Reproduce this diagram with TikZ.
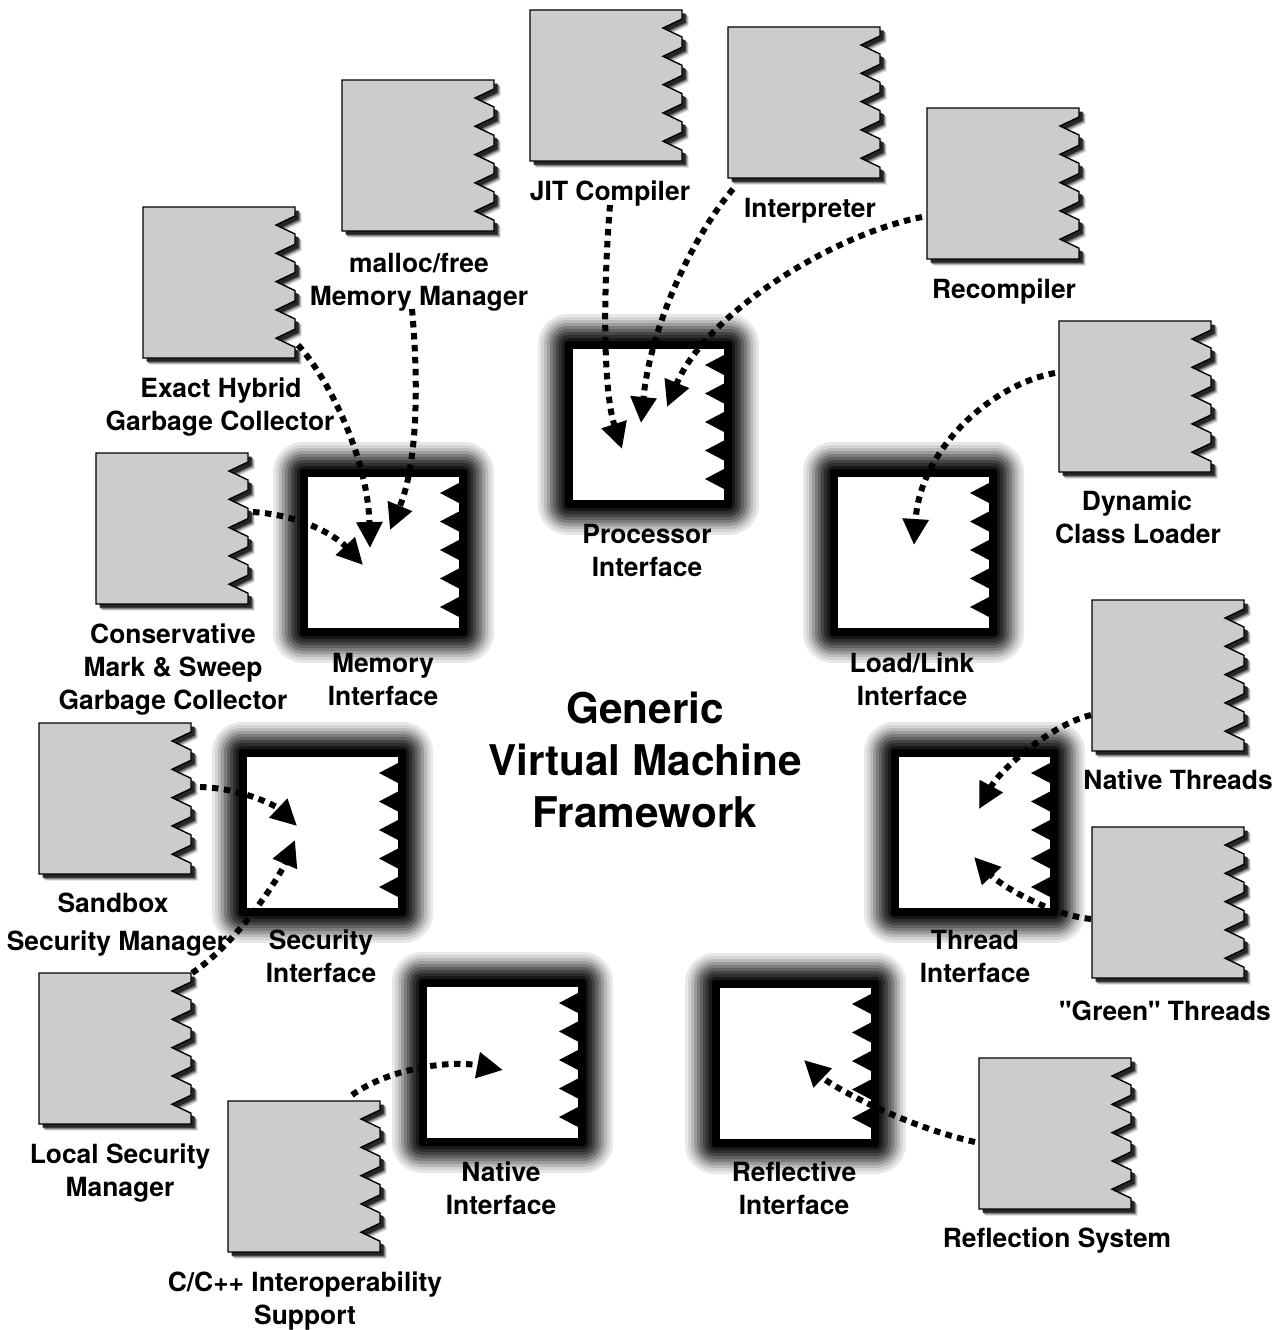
\documentclass[tikz,border=0pt]{standalone}
\usepackage{fontspec}
\setmainfont{TeX Gyre Heros}[Ligatures=TeXOff]
\usetikzlibrary{arrows.meta}
\tikzset{
  flow/.style={line width=6pt, dash pattern=on 6.5pt off 5.5pt, -{Triangle[length=26pt,width=25pt]}},
  lab/.style={anchor=base, inner sep=0pt, font=\bfseries\fontsize{26.4}{33}\selectfont},
  ttl/.style={anchor=base, inner sep=0pt, font=\bfseries\fontsize{42.3}{52}\selectfont},
  modfill/.style={fill=black!20, draw=black, line width=1.4pt, line join=miter},
  modanchor/.style={minimum width=152pt, minimum height=151pt, inner sep=0pt},
  ifinner/.style={fill=white, minimum size=151pt, inner sep=0pt},
}
% module outline, top-left corner (#1,#2)
\newcommand{\modpath}[2]{(#1,#2) -- ({#1+152},#2)
  \foreach \i in {0,...,4}{ -- ({#1+152},{#2+18+28.3*\i-9}) -- ({#1+133},{#2+18+28.3*\i}) -- ({#1+152},{#2+18+28.3*\i+9}) }
  -- ({#1+152},{#2+151}) -- (#1,{#2+151}) -- cycle}
\newcommand{\modbox}[3]{%
  \node[modanchor] (#1) at ({#2+76},{#3+75.5}) {};
  \foreach \shd/\gry in {6.5/15,5.5/35,4.5/60,3.5/85}{
    \fill[black!\gry, shift={(\shd,\shd)}] \modpath{#2}{#3};
  }
  \filldraw[modfill] \modpath{#2}{#3};
}
\newcommand{\ifbox}[3]{%
  \foreach \o/\g/\r in {35/9/30,32/17/27,29/27/24,26/39/21,23/51/18,20/62/15,17/73/12,14/82/9,11/90/7}{
    \fill[black!\g, rounded corners=\r pt] ({#2-\o},{#3-\o}) rectangle ({#2+151+\o},{#3+151+\o});
  }
  \fill[black, rounded corners=3pt] ({#2-8},{#3-8}) rectangle ({#2+159},{#3+159});
  \node[ifinner] (#1) at ({#2+75.5},{#3+75.5}) {};
  \foreach \i in {0,...,4}{
    \fill[black] ({#2+151},{#3+16+28.5*\i-10}) -- ({#2+132},{#3+16+28.5*\i}) -- ({#2+151},{#3+16+28.5*\i+10}) -- cycle;
  }
}
\begin{document}
\begin{tikzpicture}[x=1pt,y=-1pt]
\useasboundingbox (0,0) rectangle (1284,1330);
\fill[white] (0,0) rectangle (1284,1330);

% interfaces
\ifbox{proc}{573}{349}
\ifbox{mem}{308}{477}
\ifbox{load}{838}{477}
\ifbox{sec}{247}{757}
\ifbox{thr}{899}{757}
\ifbox{nat}{427}{987}
\ifbox{refl}{720}{988}

% modules
\modbox{jit}{530}{10}
\modbox{interp}{728}{27}
\modbox{recomp}{927}{108}
\modbox{malloc}{342}{80}
\modbox{exact}{143}{207}
\modbox{cons}{96}{453}
\modbox{dyn}{1059}{321}
\modbox{nthr}{1092}{600}
\modbox{gthr}{1092}{827}
\modbox{sand}{39}{723}
\modbox{local}{39}{973}
\modbox{ccpp}{228}{1101}
\modbox{reflsys}{979}{1058}

% labels
\node[lab] (jitL) at (610,200) {JIT Compiler};
\node[lab] (interpL) at (810,217) {Interpreter};
\node[lab] (recompL) at (1004,298) {Recompiler};
\node[lab] (mallocLa) at (419,272) {malloc/free};
\node[lab] (mallocLb) at (419,305) {Memory Manager};
\node[lab] (exactLa) at (221,397) {Exact Hybrid};
\node[lab] (exactLb) at (220,430) {Garbage Collector};
\node[lab] (consLa) at (173,643) {Conservative};
\node[lab] (consLb) at (173,676) {Mark \& Sweep};
\node[lab] (consLc) at (173,709) {Garbage Collector};
\node[lab] (memLa) at (383,672) {Memory};
\node[lab] (memLb) at (383,705) {Interface};
\node[lab] (procLa) at (647,543) {Processor};
\node[lab] (procLb) at (647,576) {Interface};
\node[lab] (dynLa) at (1137,510) {Dynamic};
\node[lab] (dynLb) at (1138,543) {Class Loader};
\node[lab] (loadLa) at (912,672) {Load/Link};
\node[lab] (loadLb) at (912,705) {Interface};
\node[lab] (nthrL) at (1178,789) {Native Threads};
\node[lab] (gthrL) at (1165,1020) {"Green" Threads};
\node[lab] (thrLa) at (975,949) {Thread};
\node[lab] (thrLb) at (975,982) {Interface};
\node[lab] (secLa) at (321,949) {Security};
\node[lab] (secLb) at (321,982) {Interface};
\node[lab] (sandLa) at (113,912) {Sandbox};
\node[lab] (sandLb) at (117,950) {Security Manager};
\node[lab] (localLa) at (120,1163) {Local Security};
\node[lab] (localLb) at (120,1196) {Manager};
\node[lab] (ccppLa) at (305,1291) {C/C++ Interoperability};
\node[lab] (ccppLb) at (305,1324) {Support};
\node[lab] (natLa) at (501,1181) {Native};
\node[lab] (natLb) at (501,1214) {Interface};
\node[lab] (reflLa) at (794,1181) {Reflective};
\node[lab] (reflLb) at (794,1214) {Interface};
\node[lab] (reflsysL) at (1057,1247) {Reflection System};
\node[ttl] (titleA) at (645,723) {Generic};
\node[ttl] (titleB) at (645,775) {Virtual Machine};
\node[ttl] (titleC) at (645,827) {Framework};

% connector end points
\coordinate (jitS) at (610,205);      \coordinate (jitT) at (622,449);
\coordinate (interpS) at (733,189);   \coordinate (interpT) at (641,423);
\coordinate (recompS) at (922,217);   \coordinate (recompT) at (667,407);
\coordinate (exactS) at (298,345);    \coordinate (exactT) at (370,548);
\coordinate (mallocS) at (412,309);   \coordinate (mallocT) at (390,530);
\coordinate (consS) at (253,512);     \coordinate (consT) at (363,565);
\coordinate (dynS) at (1055,373);     \coordinate (dynT) at (914,545);
\coordinate (nthrS) at (1091,715);    \coordinate (nthrT) at (979,809);
\coordinate (gthrS) at (1091,919);    \coordinate (gthrT) at (974,857);
\coordinate (sandS) at (200,787);     \coordinate (sandT) at (297,826);
\coordinate (localS) at (192,973);    \coordinate (localT) at (295,840);
\coordinate (ccppS) at (352,1095);    \coordinate (ccppT) at (503,1070);
\coordinate (reflS) at (975,1142);    \coordinate (reflT) at (804,1060);

% connectors
\draw[flow] (jitS) .. controls (603,290) and (603,390) .. (jitT);
\draw[flow] (interpS) .. controls (690,240) and (650,330) .. (interpT);
\draw[flow] (recompS) .. controls (830,235) and (705,315) .. (recompT);
\draw[flow] (exactS) .. controls (330,380) and (368,460) .. (exactT);
\draw[flow] (mallocS) .. controls (420,400) and (415,470) .. (mallocT);
\draw[flow] (consS) .. controls (300,515) and (335,535) .. (consT);
\draw[flow] (dynS) .. controls (990,385) and (920,450) .. (dynT);
\draw[flow] (nthrS) .. controls (1050,725) and (1000,770) .. (nthrT);
\draw[flow] (gthrS) .. controls (1050,915) and (1000,885) .. (gthrT);
\draw[flow] (sandS) .. controls (240,788) and (275,805) .. (sandT);
\draw[flow] (localS) .. controls (235,945) and (278,880) .. (localT);
\draw[flow] (ccppS) .. controls (390,1068) and (450,1060) .. (ccppT);
\draw[flow] (reflS) .. controls (900,1125) and (830,1085) .. (reflT);
\end{tikzpicture}
\end{document}
